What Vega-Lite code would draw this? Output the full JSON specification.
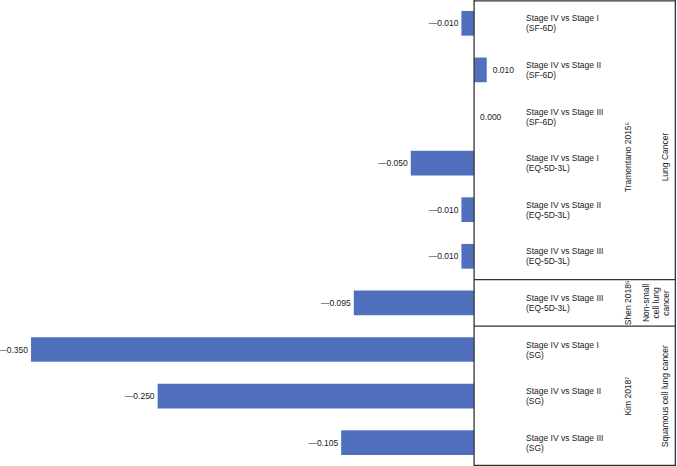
{
  "$schema": "https://vega.github.io/schema/vega-lite/v6.json",
  "autosize": "none",
  "width": 677,
  "height": 466,
  "padding": 0,
  "background": "white",
  "config": {
    "view": {"stroke": null},
    "text": {"font": "Liberation Sans", "fontSize": 8.5, "color": "#1a1a1a", "lineBreak": "\n", "lineHeight": 10}
  },
  "datasets": {
    "bars": [
      {"order": 1, "study": "Tramontano", "comparison": "Stage IV vs Stage I\n(SF-6D)", "value": -0.010, "label": "—0.010"},
      {"order": 2, "study": "Tramontano", "comparison": "Stage IV vs Stage II\n(SF-6D)", "value": 0.010, "label": "0.010"},
      {"order": 3, "study": "Tramontano", "comparison": "Stage IV vs Stage III\n(SF-6D)", "value": 0.000, "label": "0.000"},
      {"order": 4, "study": "Tramontano", "comparison": "Stage IV vs Stage I\n(EQ-5D-3L)", "value": -0.050, "label": "—0.050"},
      {"order": 5, "study": "Tramontano", "comparison": "Stage IV vs Stage II\n(EQ-5D-3L)", "value": -0.010, "label": "—0.010"},
      {"order": 6, "study": "Tramontano", "comparison": "Stage IV vs Stage III\n(EQ-5D-3L)", "value": -0.010, "label": "—0.010"},
      {"order": 7, "study": "Shen", "comparison": "Stage IV vs Stage III\n(EQ-5D-3L)", "value": -0.095, "label": "—0.095"},
      {"order": 8, "study": "Kim", "comparison": "Stage IV vs Stage I\n(SG)", "value": -0.350, "label": "—0.350"},
      {"order": 9, "study": "Kim", "comparison": "Stage IV vs Stage II\n(SG)", "value": -0.250, "label": "—0.250"},
      {"order": 10, "study": "Kim", "comparison": "Stage IV vs Stage III\n(SG)", "value": -0.105, "label": "—0.105"}
    ],
    "groups": [
      {"study": "Tramontano", "studyLabel": "Tramontano 2015⁵", "cancer": "Lung Cancer", "row": 3.37},
      {"study": "Shen", "studyLabel": "Shen 2018⁶", "cancer": "Non-small\ncell lung\ncancer", "row": 6.5},
      {"study": "Kim", "studyLabel": "Kim 2018⁷", "cancer": "Squamous cell lung cancer", "row": 8.5}
    ],
    "dividers": [
      {"row": 0.02},
      {"row": 6},
      {"row": 7},
      {"row": 9.985}
    ]
  },
  "layer": [
    {
      "data": {"name": "bars"},
      "encoding": {
        "y": {
          "field": "order", "type": "ordinal", "axis": null,
          "scale": {"paddingInner": 0.47, "paddingOuter": 0.235}
        }
      },
      "layer": [
        {
          "mark": {"type": "bar", "color": "#5070be"},
          "encoding": {
            "x": {"field": "value", "type": "quantitative", "axis": null,
                  "scale": {"domain": [-0.3745, 0.1603], "nice": false, "zero": false}}
          }
        },
        {
          "transform": [{"filter": "datum.value < 0"}],
          "mark": {"type": "text", "align": "right", "baseline": "middle", "dx": -3},
          "encoding": {
            "x": {"field": "value", "type": "quantitative", "axis": null,
                  "scale": {"domain": [-0.3745, 0.1603], "nice": false, "zero": false}},
            "text": {"field": "label"}
          }
        },
        {
          "transform": [{"filter": "datum.value >= 0"}],
          "mark": {"type": "text", "align": "left", "baseline": "middle", "dx": 6},
          "encoding": {
            "x": {"field": "value", "type": "quantitative", "axis": null,
                  "scale": {"domain": [-0.3745, 0.1603], "nice": false, "zero": false}},
            "text": {"field": "label"}
          }
        },
        {
          "mark": {"type": "text", "align": "left", "baseline": "middle", "dy": -5},
          "encoding": {
            "x": {"datum": 0.041, "type": "quantitative",
                  "scale": {"domain": [-0.3745, 0.1603], "nice": false, "zero": false}},
            "text": {"field": "comparison"}
          }
        }
      ]
    },
    {
      "layer": [
        {
          "data": {"name": "dividers"},
          "mark": {"type": "rule", "color": "#333333", "strokeWidth": 1.3},
          "encoding": {
            "y": {"field": "row", "type": "quantitative", "axis": null,
                  "scale": {"domain": [0, 10], "reverse": true, "nice": false, "zero": false}},
            "x": {"datum": 0, "type": "quantitative",
                  "scale": {"domain": [-0.3745, 0.1603], "nice": false, "zero": false}},
            "x2": {"datum": 0.159}
          }
        },
        {
          "data": {"values": [{"edge": "zero"}]},
          "mark": {"type": "rule", "color": "#333333", "strokeWidth": 1.3},
          "encoding": {
            "x": {"datum": 0, "type": "quantitative",
                  "scale": {"domain": [-0.3745, 0.1603], "nice": false, "zero": false}}
          }
        },
        {
          "data": {"values": [{"edge": "right"}]},
          "mark": {"type": "rule", "color": "#333333", "strokeWidth": 1.3},
          "encoding": {
            "x": {"datum": 0.159, "type": "quantitative",
                  "scale": {"domain": [-0.3745, 0.1603], "nice": false, "zero": false}}
          }
        },
        {
          "data": {"name": "groups"},
          "mark": {"type": "text", "align": "center", "baseline": "middle", "angle": 270},
          "encoding": {
            "y": {"field": "row", "type": "quantitative", "axis": null,
                  "scale": {"domain": [0, 10], "reverse": true, "nice": false, "zero": false}},
            "x": {"datum": 0.1216, "type": "quantitative",
                  "scale": {"domain": [-0.3745, 0.1603], "nice": false, "zero": false}},
            "text": {"field": "studyLabel"}
          }
        },
        {
          "data": {"name": "groups"},
          "transform": [{"filter": "datum.study != 'Shen'"}],
          "mark": {"type": "text", "align": "center", "baseline": "middle", "angle": 270},
          "encoding": {
            "y": {"field": "row", "type": "quantitative", "axis": null,
                  "scale": {"domain": [0, 10], "reverse": true, "nice": false, "zero": false}},
            "x": {"datum": 0.1512, "type": "quantitative",
                  "scale": {"domain": [-0.3745, 0.1603], "nice": false, "zero": false}},
            "text": {"field": "cancer"}
          }
        },
        {
          "data": {"name": "groups"},
          "transform": [{"filter": "datum.study == 'Shen'"}],
          "mark": {"type": "text", "align": "center", "baseline": "middle", "angle": 270, "dy": -10},
          "encoding": {
            "y": {"field": "row", "type": "quantitative", "axis": null,
                  "scale": {"domain": [0, 10], "reverse": true, "nice": false, "zero": false}},
            "x": {"datum": 0.1437, "type": "quantitative",
                  "scale": {"domain": [-0.3745, 0.1603], "nice": false, "zero": false}},
            "text": {"field": "cancer"}
          }
        }
      ]
    }
  ],
  "resolve": {"scale": {"y": "independent"}}
}
